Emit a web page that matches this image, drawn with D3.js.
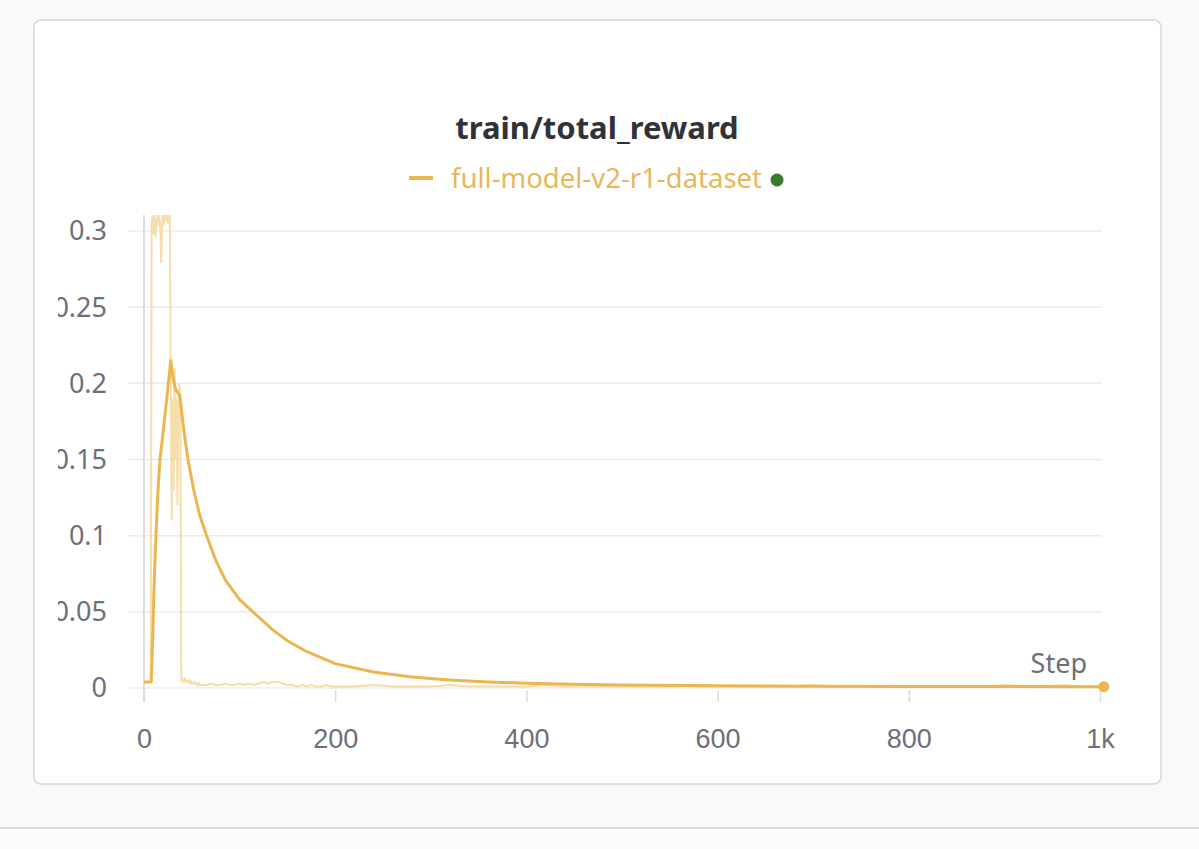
<!DOCTYPE html>
<html>
<head>
<meta charset="utf-8">
<script src="https://cdn.jsdelivr.net/npm/d3@7"></script>
<style>
  html, body { margin: 0; padding: 0; background: #f9f9fa; }
  svg { display: block; font-family: 'Noto Sans', 'Open Sans', sans-serif; }
  .grid line { stroke: #ececef; stroke-width: 1.5; }
  .tick-label { fill: #6e6f78; font-size: 27px; }
</style>
</head>
<body>
<svg id="chart" width="1199" height="849"></svg>
<script>
// raw reward, one value per step for the first 60 steps
const rawHead = [
  0.004, 0.004, 0.004, 0.004, 0.004, 0.004, 0.004, 0.004, 0.305, 0.31,
  0.298, 0.312, 0.296, 0.308, 0.303, 0.315, 0.309, 0.302, 0.279, 0.306,
  0.314, 0.304, 0.318, 0.307, 0.312, 0.305, 0.316, 0.31, 0.2, 0.11,
  0.19, 0.13, 0.21, 0.15, 0.19, 0.12, 0.18, 0.2, 0.19, 0.005,
  0.006, 0.005, 0.004, 0.006, 0.005, 0.004, 0.005, 0.004, 0.005, 0.003,
  0.004, 0.003, 0.003, 0.004, 0.003, 0.002, 0.003, 0.002, 0.003, 0.002
]
// raw reward after step 60, sampled every 5 steps up to 200
const rawMidSteps = d3.range(65, 201, 5)
const rawMid = [
  0.002, 0.003, 0.002, 0.002, 0.003, 0.002, 0.002, 0.003, 0.002, 0.003,
  0.002, 0.003, 0.004, 0.003, 0.004, 0.004, 0.003, 0.002, 0.002, 0.001,
  0.002, 0.001, 0.002, 0.001, 0.001, 0.002, 0.001, 0.001
]
// raw reward from step 220 on, sampled every 20 steps
const rawTailSteps = d3.range(220, 1001, 20).concat([1004])
const rawTail = [
  0.001, 0.002, 0.001, 0.001, 0.001, 0.002, 0.001, 0.001, 0.001, 0.001,
  0.002, 0.001, 0.001, 0.001, 0.001, 0.001, 0.001, 0.002, 0.001, 0.001,
  0.001, 0.001, 0.001, 0.001, 0.002, 0.001, 0.001, 0.001, 0.001, 0.001,
  0.001, 0.001, 0.001, 0.001, 0.002, 0.001, 0.001, 0.002, 0.001, 0.001,
  0.001
]

// smoothed curve read at key steps
const smoothSteps = [0, 7.5, 8.5, 9.8, 11, 12.5, 14.5, 16.7, 20, 23, 25.5, 28, 30, 33, 37.5, 40, 43, 46, 52, 58, 65.5, 75, 85, 100, 114, 135, 150, 170, 200, 240, 280, 320, 360, 400, 450, 500, 600, 700, 800, 900, 1004]
const smoothValues = [0.004, 0.004, 0.02, 0.05, 0.075, 0.1, 0.128, 0.15, 0.168, 0.185, 0.2, 0.215, 0.205, 0.196, 0.192, 0.178, 0.163, 0.15, 0.13, 0.114, 0.1, 0.084, 0.071, 0.058, 0.05, 0.038, 0.031, 0.024, 0.016, 0.0105, 0.0072, 0.0052, 0.004, 0.0031, 0.0025, 0.002, 0.0015, 0.0012, 0.001, 0.001, 0.0009]

const xTicks = [0, 200, 400, 600, 800, 1000]
const yTicks = [0, 0.05, 0.1, 0.15, 0.2, 0.25, 0.3]

const title = 'train/total_reward'
const seriesName = 'full-model-v2-r1-dataset'
const lineColor = '#ecb64f'

const raw = rawHead.map((v, i) => [i, v])
  .concat(rawMid.map((v, i) => [rawMidSteps[i], v]))
  .concat(rawTail.map((v, i) => [rawTailSteps[i], v]))
const smooth = smoothValues.map((v, i) => [smoothSteps[i], v])

const svg = d3.select('#chart')

// page separator and panel card
svg.append('rect').attr('x', 0).attr('y', 828).attr('width', 1199).attr('height', 21).attr('fill', '#fbfbfc')
svg.append('line').attr('x1', 0).attr('x2', 1199).attr('y1', 828).attr('y2', 828).attr('stroke', '#d9d9de').attr('stroke-width', 2)
svg.append('rect')
  .attr('x', 34).attr('y', 20).attr('width', 1127).attr('height', 764)
  .attr('rx', 7)
  .attr('fill', '#ffffff')
  .attr('stroke', '#d6d6da')
  .attr('stroke-width', 1.5)

const x = d3.scaleLinear().domain([0, 1000]).range([144, 1100])
const y = d3.scaleLinear().domain([0, 0.3]).range([688, 231])

// horizontal grid
svg.append('g')
  .attr('class', 'grid')
  .selectAll('line')
  .data(yTicks)
  .join('line')
  .attr('x1', 128).attr('x2', 1102)
  .attr('y1', d => y(d)).attr('y2', d => y(d))

// y tick labels, clipped on the left like the panel
svg.append('clipPath').attr('id', 'label-clip')
  .append('rect').attr('x', 58).attr('y', 200).attr('width', 100).attr('height', 520)
svg.append('g')
  .attr('clip-path', 'url(#label-clip)')
  .selectAll('text')
  .data(yTicks)
  .join('text')
  .attr('class', 'tick-label')
  .attr('x', 107)
  .attr('y', d => y(d))
  .attr('dy', '0.35em')
  .attr('text-anchor', 'end')
  .text(d => d3.format('~g')(d))

// vertical axis line and x ticks
svg.append('line').attr('x1', 144).attr('x2', 144).attr('y1', 215).attr('y2', 702)
  .attr('stroke', '#dcdce1').attr('stroke-width', 2)

const xAxis = d3.axisBottom(x)
  .tickValues(xTicks)
  .tickSize(12)
  .tickPadding(27)
  .tickFormat(d => d === 1000 ? '1k' : d)
const xg = svg.append('g').attr('transform', 'translate(0,690)').call(xAxis)
xg.select('.domain').remove()
xg.selectAll('.tick line').attr('stroke', '#dcdce1').attr('stroke-width', 1.5)
xg.selectAll('.tick text').attr('class', 'tick-label').attr('font-family', null).attr('font-size', null)

svg.append('text')
  .attr('class', 'tick-label')
  .attr('x', 1087).attr('y', 673)
  .attr('text-anchor', 'end')
  .text('Step')

// data lines, clipped at the plot top
svg.append('clipPath').attr('id', 'plot-clip')
  .append('rect').attr('x', 140).attr('y', 215).attr('width', 980).attr('height', 490)

const line = d3.line().x(d => x(d[0])).y(d => y(d[1]))
const plot = svg.append('g').attr('clip-path', 'url(#plot-clip)')

plot.append('path')
  .datum(raw)
  .attr('d', line)
  .attr('fill', 'none')
  .attr('stroke', '#f2d497')
  .attr('stroke-opacity', 0.8)
  .attr('stroke-width', 2)

plot.append('path')
  .datum(smooth)
  .attr('d', line)
  .attr('fill', 'none')
  .attr('stroke', lineColor)
  .attr('stroke-width', 3)
  .attr('stroke-linejoin', 'round')

const last = smooth[smooth.length - 1]
svg.append('circle')
  .attr('cx', x(last[0])).attr('cy', y(last[1]))
  .attr('r', 5.5)
  .attr('fill', lineColor)

// title and legend
svg.append('text')
  .attr('x', 597).attr('y', 139)
  .attr('text-anchor', 'middle')
  .attr('font-size', 31)
  .attr('font-weight', 'bold')
  .attr('fill', '#30323a')
  .text(title)

const legend = svg.append('g').attr('transform', 'translate(409, 178)')
legend.append('line').attr('x1', 0).attr('x2', 24).attr('y1', 0).attr('y2', 0)
  .attr('stroke', lineColor).attr('stroke-width', 4)
const legendText = legend.append('text')
  .attr('x', 42).attr('y', 0).attr('dy', '0.35em')
  .attr('font-size', 27.5)
  .attr('fill', '#e9b75a')
  .text(seriesName)
const textWidth = legendText.node().getComputedTextLength()
legend.append('circle')
  .attr('cx', 42 + textWidth + 15).attr('cy', 2)
  .attr('r', 6.5)
  .attr('fill', '#367a2c')
</script>
</body>
</html>
